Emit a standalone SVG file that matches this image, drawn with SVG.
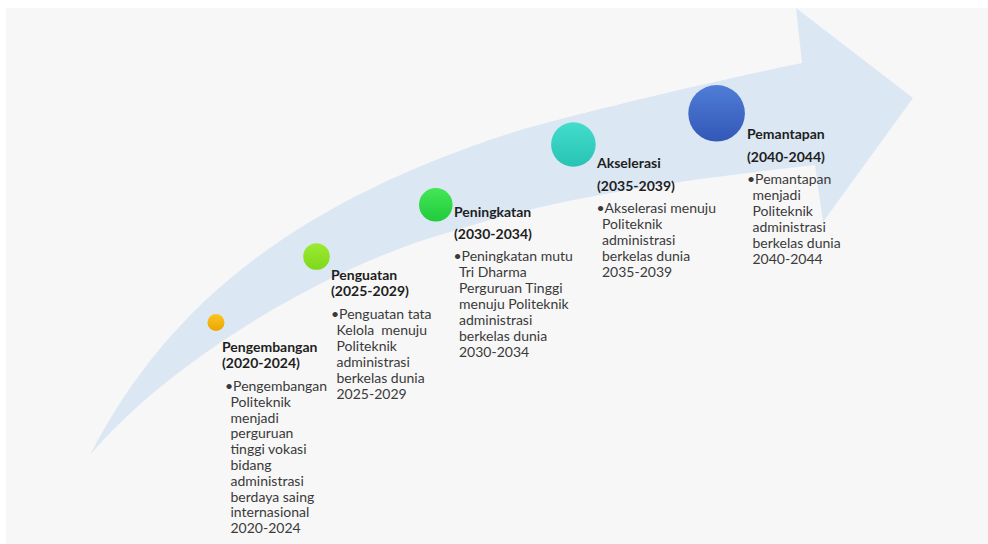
<svg xmlns="http://www.w3.org/2000/svg" width="988" height="544" viewBox="0 0 988 544">
  <style>
    .t { font-family: Lato, "Liberation Sans", "DejaVu Sans", sans-serif; font-size: 14px; fill: #3a3a3a; }
    .h { font-weight: bold; fill: #1e1e1e; }
  </style>
  <defs>
    <linearGradient id="gOrange" x1="0" y1="0" x2="0" y2="1">
      <stop offset="0" stop-color="#fcc425"/>
      <stop offset="1" stop-color="#eba600"/>
    </linearGradient>
    <linearGradient id="gLime" x1="0" y1="0" x2="0" y2="1">
      <stop offset="0" stop-color="#9ceb34"/>
      <stop offset="1" stop-color="#7fd81a"/>
    </linearGradient>
    <linearGradient id="gGreen" x1="0" y1="0" x2="0" y2="1">
      <stop offset="0" stop-color="#44e656"/>
      <stop offset="1" stop-color="#20cb3c"/>
    </linearGradient>
    <linearGradient id="gTeal" x1="0" y1="0" x2="0" y2="1">
      <stop offset="0" stop-color="#44ddcd"/>
      <stop offset="1" stop-color="#27c3b3"/>
    </linearGradient>
    <linearGradient id="gBlue" x1="0" y1="0" x2="0" y2="1">
      <stop offset="0" stop-color="#4f7dd6"/>
      <stop offset="1" stop-color="#3357b8"/>
    </linearGradient>
  </defs>

  <rect x="0" y="0" width="988" height="544" fill="#ffffff"/>
  <rect x="6" y="8" width="982" height="536" fill="#f7f7f7"/>

  <g id="arrow">
    <path d="M90,455 C170,300 300,200 520,130 C620,103 720,80 802,63 L796,8 L913,98 L823,222 L815,165 C700,178 560,195 450,232 C330,265 170,360 90,455 Z" fill="#dce7f4"/>
  </g>

  <g id="connectors"></g>

  <g id="n-pengembangan">
    <circle cx="216" cy="322.5" r="8.5" fill="url(#gOrange)"/>
    <text class="t h" x="222" y="352">Pengembangan</text>
    <text class="t h" x="222" y="368">(2020-2024)</text>
    <text class="t">
      <tspan x="225" y="391">•Pengembangan</tspan>
      <tspan x="230.5" y="406.8">Politeknik</tspan>
      <tspan x="230.5" y="422.6">menjadi</tspan>
      <tspan x="230.5" y="438.4">perguruan</tspan>
      <tspan x="230.5" y="454.2">tinggi vokasi</tspan>
      <tspan x="230.5" y="470">bidang</tspan>
      <tspan x="230.5" y="485.8">administrasi</tspan>
      <tspan x="230.5" y="501.6">berdaya saing</tspan>
      <tspan x="230.5" y="517.4">internasional</tspan>
      <tspan x="230.5" y="533.2">2020-2024</tspan>
    </text>
  </g>

  <g id="n-penguatan">
    <circle cx="316.5" cy="256.5" r="13.3" fill="url(#gLime)"/>
    <text class="t h" x="331" y="280">Penguatan</text>
    <text class="t h" x="331" y="296">(2025-2029)</text>
    <text class="t">
      <tspan x="331" y="319">•Penguatan tata</tspan>
      <tspan x="336.5" y="335">Kelola&#160; menuju</tspan>
      <tspan x="336.5" y="351">Politeknik</tspan>
      <tspan x="336.5" y="367">administrasi</tspan>
      <tspan x="336.5" y="383">berkelas dunia</tspan>
      <tspan x="336.5" y="399">2025-2029</tspan>
    </text>
  </g>

  <g id="n-peningkatan">
    <circle cx="435.8" cy="204.8" r="16.8" fill="url(#gGreen)"/>
    <text class="t h" x="454" y="216.5">Peningkatan</text>
    <text class="t h" x="454" y="239">(2030-2034)</text>
    <text class="t">
      <tspan x="453.5" y="261">•Peningkatan mutu</tspan>
      <tspan x="459" y="277">Tri Dharma</tspan>
      <tspan x="459" y="293">Perguruan Tinggi</tspan>
      <tspan x="459" y="309">menuju Politeknik</tspan>
      <tspan x="459" y="325">administrasi</tspan>
      <tspan x="459" y="341">berkelas dunia</tspan>
      <tspan x="459" y="357">2030-2034</tspan>
    </text>
  </g>

  <g id="n-akselerasi">
    <circle cx="573.4" cy="144.5" r="22.3" fill="url(#gTeal)"/>
    <text class="t h" x="597" y="168">Akselerasi</text>
    <text class="t h" x="597" y="190.5">(2035-2039)</text>
    <text class="t">
      <tspan x="596.5" y="212.5">•Akselerasi menuju</tspan>
      <tspan x="602" y="228.5">Politeknik</tspan>
      <tspan x="602" y="244.5">administrasi</tspan>
      <tspan x="602" y="260.5">berkelas dunia</tspan>
      <tspan x="602" y="276.5">2035-2039</tspan>
    </text>
  </g>

  <g id="n-pemantapan">
    <circle cx="716.6" cy="113.3" r="28.3" fill="url(#gBlue)"/>
    <text class="t h" x="747" y="138.5">Pemantapan</text>
    <text class="t h" x="747" y="161.5">(2040-2044)</text>
    <text class="t">
      <tspan x="747" y="183.5">•Pemantapan</tspan>
      <tspan x="752.5" y="199.5">menjadi</tspan>
      <tspan x="752.5" y="215.5">Politeknik</tspan>
      <tspan x="752.5" y="231.5">administrasi</tspan>
      <tspan x="752.5" y="247.5">berkelas dunia</tspan>
      <tspan x="752.5" y="263.5">2040-2044</tspan>
    </text>
  </g>
</svg>
